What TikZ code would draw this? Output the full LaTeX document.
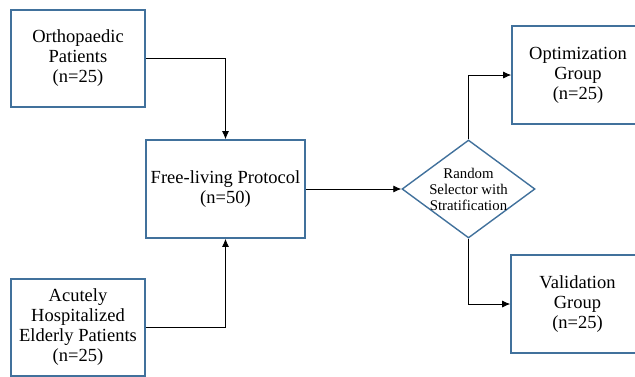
\documentclass[tikz,border=0pt]{standalone}
\usepackage{fontspec}
\setmainfont{Liberation Serif}
\usetikzlibrary{shapes.geometric,arrows.meta}
\definecolor{boxblue}{RGB}{65,113,156}
\tikzset{
  box/.style={draw=boxblue, line width=1.6pt, rectangle, align=center, inner sep=0pt,
    font=\fontsize{18.5}{20}\selectfont},
  dia/.style={draw=boxblue, line width=1.4pt, diamond, inner sep=0pt, aspect=1.357,
    minimum width=133pt, minimum height=98pt},
  diatext/.style={align=center, inner sep=0pt, font=\fontsize{14.8}{16}\selectfont},
  arr/.style={draw=black, line width=0.8pt, -{Latex[length=8pt,width=7pt]}}
}
\begin{document}
\begin{tikzpicture}[x=1pt,y=-1pt]
\useasboundingbox (0,0) rectangle (635,376);
\clip (0,0) rectangle (635,376);
\node[box, minimum width=134pt, minimum height=97pt] (orth) at (78,58.5) {Orthopaedic\\Patients\\(n=25)};
\node[box, minimum width=159pt, minimum height=98pt] (free) at (225.5,189) {Free-living Protocol\\(n=50)};
\node[box, minimum width=134pt, minimum height=97pt] (acute) at (78,327.5) {Acutely\\Hospitalized\\Elderly Patients\\(n=25)};
\node[dia] (sel) at (468.5,189) {};
\node[diatext] (seltext) at (sel.center) {Random\\Selector with\\Stratification};
\node[box, minimum width=132pt, minimum height=98pt] (opt) at (578,75) {Optimization\\Group\\(n=25)};
\node[box, minimum width=133pt, minimum height=98pt] (val) at (577.5,304) {Validation\\Group\\(n=25)};
\draw[arr] (orth.east) -| (free.north);
\draw[arr] (acute.east) -| (free.south);
\draw[arr] (free.east) -- (sel.west);
\draw[arr] (sel.north) |- (opt.west);
\draw[arr] (sel.south) |- (val.west);
\end{tikzpicture}
\end{document}
